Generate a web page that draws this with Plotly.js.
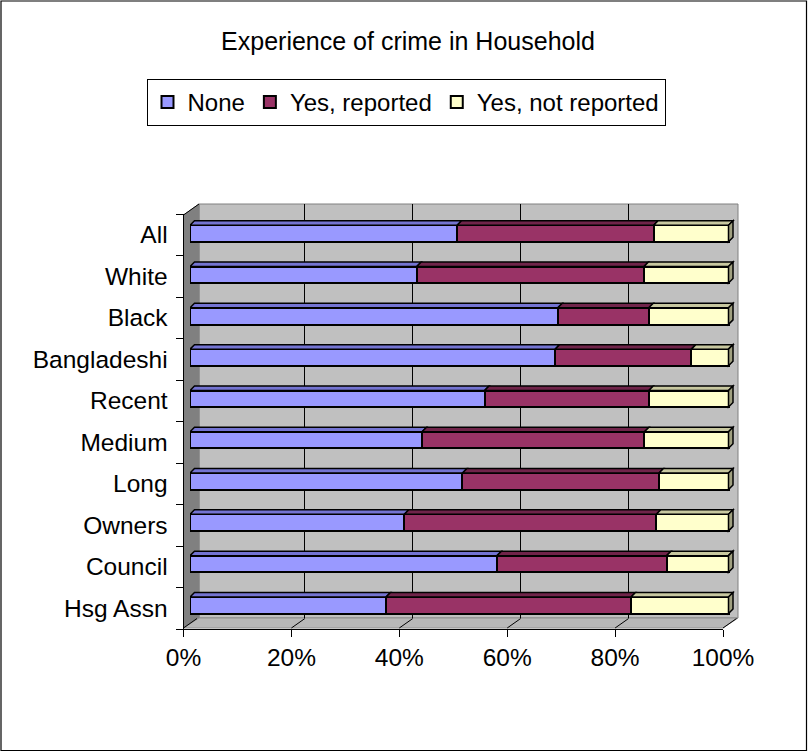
<!DOCTYPE html>
<html>
<head>
<meta charset="utf-8">
<script src="https://cdn.plot.ly/plotly-3.0.1.min.js"></script>
<style>
  html, body { margin: 0; padding: 0; background: #fff; }
  #chart { width: 808px; height: 752px; }
</style>
</head>
<body>
<div id="chart"></div>
<script>
// ---- data ----
const categories = ['All', 'White', 'Black', 'Bangladeshi', 'Recent', 'Medium', 'Long', 'Owners', 'Council', 'Hsg Assn'];
const noneVals = [49.6, 42.1, 68.3, 67.8, 54.7, 43.1, 50.6, 39.8, 57.0, 36.4];
const reportedVals = [36.5, 42.2, 16.9, 25.3, 30.5, 41.3, 36.5, 46.8, 31.5, 45.5];
const notReportedVals = [13.9, 15.7, 14.8, 6.9, 14.8, 15.6, 12.9, 13.4, 11.5, 18.1];
const seriesNames = ['None', 'Yes, reported', 'Yes, not reported'];
const tickVals = [0, 20, 40, 60, 80, 100];
const tickLabels = ['0%', '20%', '40%', '60%', '80%', '100%'];
const chartTitle = 'Experience of crime in Household';

// ---- styling / geometry ----
const W = 808, H = 752;
const FONT = 'Liberation Sans, Arial, Helvetica, sans-serif';
const frontColors = ['#9999FF', '#993366', '#FFFFCC'];
const topColors = ['#7474D2', '#70244A', '#C8C8A0'];
const sideColor = '#A0A080';
const px = x => x / W;
const py = y => 1 - y / H;

// bar subplot geometry (pixels)
const barLeft = 190, pxPerPct = 5.385, barXMax = 102;
const barTop = 212.85, barBottom = 625.85;
const pxPerCat = (barBottom - barTop) / categories.length;
const barWidth = 0.4;
const depthPx = 4.5;
const dX = depthPx / pxPerPct;
const dY = depthPx / pxPerCat;

const idx = categories.map((c, i) => i);
const series = [noneVals, reportedVals, notReportedVals];

const traces = [];
// dummy traces to register helper axes
traces.push({type: 'scatter', x: [null], y: [null], xaxis: 'x', yaxis: 'y', mode: 'markers', showlegend: false, hoverinfo: 'skip'});
traces.push({type: 'scatter', x: [null], y: [null], xaxis: 'x2', yaxis: 'y2', mode: 'markers', showlegend: false, hoverinfo: 'skip'});

series.forEach((vals, s) => {
  traces.push({
    type: 'bar',
    orientation: 'h',
    name: seriesNames[s],
    x: vals,
    y: idx,
    width: barWidth,
    xaxis: 'x3',
    yaxis: 'y3',
    marker: {color: frontColors[s], line: {color: '#000', width: 2}},
    hoverinfo: 'x+name'
  });
});

// 3D faces of the bars (data coordinates on x3/y3)
const shapes = [];
// paper decorations: back wall, left wall, floor
const pth = pts => 'M' + pts.map(p => px(p[0]) + ',' + py(p[1])).join(' L') + ' Z';
const frontX = v => 183.5 + v * 5.395;
const backX = v => 197 + v * 5.395;
shapes.push({type: 'path', xref: 'paper', yref: 'paper', layer: 'below',
  path: pth([[199, 204], [738, 204], [738, 618], [199, 618]]),
  fillcolor: '#C0C0C0', line: {color: '#808080', width: 1}});
shapes.push({type: 'path', xref: 'paper', yref: 'paper', layer: 'below',
  path: pth([[183.5, 215], [199, 204], [199, 618], [183.5, 628]]),
  fillcolor: '#808080', line: {color: '#808080', width: 1}});
shapes.push({type: 'path', xref: 'paper', yref: 'paper', layer: 'below',
  path: pth([[183.5, 628], [199, 618], [738, 618], [723, 628]]),
  fillcolor: '#B8B8B8', line: {color: '#909090', width: 1}});
shapes.push({type: 'line', xref: 'paper', yref: 'paper', layer: 'below',
  x0: px(183.5), y0: py(215), x1: px(199), y1: py(204), line: {color: '#000', width: 1}});
tickVals.forEach(v => {
  shapes.push({type: 'line', xref: 'paper', yref: 'paper', layer: 'below',
    x0: px(frontX(v)), y0: py(628), x1: px(backX(v)), y1: py(618.5), line: {color: '#000', width: 1}});
});

categories.forEach((c, i) => {
  let start = 0;
  const yTop = i - barWidth / 2;
  const yBot = i + barWidth / 2;
  series.forEach((vals, s) => {
    const x0 = start, x1 = start + vals[i];
    shapes.push({
      type: 'path', xref: 'x3', yref: 'y3', layer: 'above',
      path: `M${x0},${yTop} L${x1},${yTop} L${x1 + dX},${yTop - dY} L${x0 + dX},${yTop - dY} Z`,
      fillcolor: topColors[s], line: {color: '#000', width: 1.5}
    });
    if (s === series.length - 1) {
      shapes.push({
        type: 'path', xref: 'x3', yref: 'y3', layer: 'above',
        path: `M${x1},${yTop} L${x1 + dX},${yTop - dY} L${x1 + dX},${yBot - dY} L${x1},${yBot} Z`,
        fillcolor: sideColor, line: {color: '#000', width: 1.5}
      });
    }
    start = x1;
  });
});

// outer chart border
shapes.push({type: 'rect', xref: 'paper', yref: 'paper', layer: 'above',
  x0: px(1), y0: py(750.5), x1: px(806.5), y1: py(1), line: {color: '#000', width: 1.2}});

const layout = {
  width: W, height: H,
  margin: {l: 0, r: 0, t: 0, b: 0, pad: 0},
  paper_bgcolor: '#FFFFFF',
  plot_bgcolor: 'rgba(0,0,0,0)',
  font: {family: FONT, size: 24, color: '#000'},
  barmode: 'stack',
  bargap: 0,
  showlegend: true,
  title: {
    text: chartTitle,
    font: {family: FONT, size: 25, color: '#000'},
    x: 408 / W, xanchor: 'center', xref: 'paper',
    y: py(41), yanchor: 'middle', yref: 'paper'
  },
  legend: {
    orientation: 'h',
    traceorder: 'normal',
    x: 406 / W, xanchor: 'center',
    y: py(79), yanchor: 'top',
    bgcolor: '#FFFFFF',
    bordercolor: '#000', borderwidth: 1,
    font: {family: FONT, size: 24, color: '#000'}
  },
  // back-wall gridlines
  xaxis: {
    domain: [px(197), px(736.5)], range: [0, 100], anchor: 'y',
    showgrid: true, gridcolor: '#000', gridwidth: 1,
    tickmode: 'array', tickvals: [20, 40, 60, 80],
    showticklabels: false, ticks: '', zeroline: false, showline: false, fixedrange: true
  },
  yaxis: {
    domain: [py(618), py(204)], range: [0, 1], anchor: 'x',
    showgrid: false, showticklabels: false, ticks: '', zeroline: false, showline: false, fixedrange: true
  },
  // front edges with tick labels
  xaxis2: {
    domain: [px(183.5), px(723)], range: [0, 100], anchor: 'y2',
    tickmode: 'array', tickvals: tickVals, ticktext: tickLabels,
    ticks: 'outside', ticklen: 7, tickcolor: '#000', tickwidth: 1,
    showline: true, linecolor: '#000', linewidth: 1,
    showgrid: false, zeroline: false, fixedrange: true,
    tickfont: {family: FONT, size: 24.5, color: '#000'}
  },
  yaxis2: {
    domain: [py(629), py(214)], range: [categories.length - 0.5, -0.5], anchor: 'x2',
    tickmode: 'array', tickvals: idx, ticktext: categories,
    ticks: '', showline: true, linecolor: '#000', linewidth: 1,
    minor: {ticks: 'outside', ticklen: 7, tickcolor: '#000', tickwidth: 1, tick0: -0.5, dtick: 1, showgrid: false},
    showgrid: false, zeroline: false, fixedrange: true,
    ticklabelstandoff: 10,
    tickfont: {family: FONT, size: 24.5, color: '#000'}
  },
  // bars
  xaxis3: {
    domain: [px(barLeft), px(barLeft + pxPerPct * barXMax)], range: [0, barXMax], anchor: 'y3',
    visible: false, fixedrange: true
  },
  yaxis3: {
    domain: [py(barBottom), py(barTop)], range: [categories.length - 0.5, -0.5], anchor: 'x3',
    visible: false, fixedrange: true
  },
  shapes: shapes
};

Plotly.newPlot('chart', traces, layout, {displayModeBar: false, responsive: false});
</script>
</body>
</html>
